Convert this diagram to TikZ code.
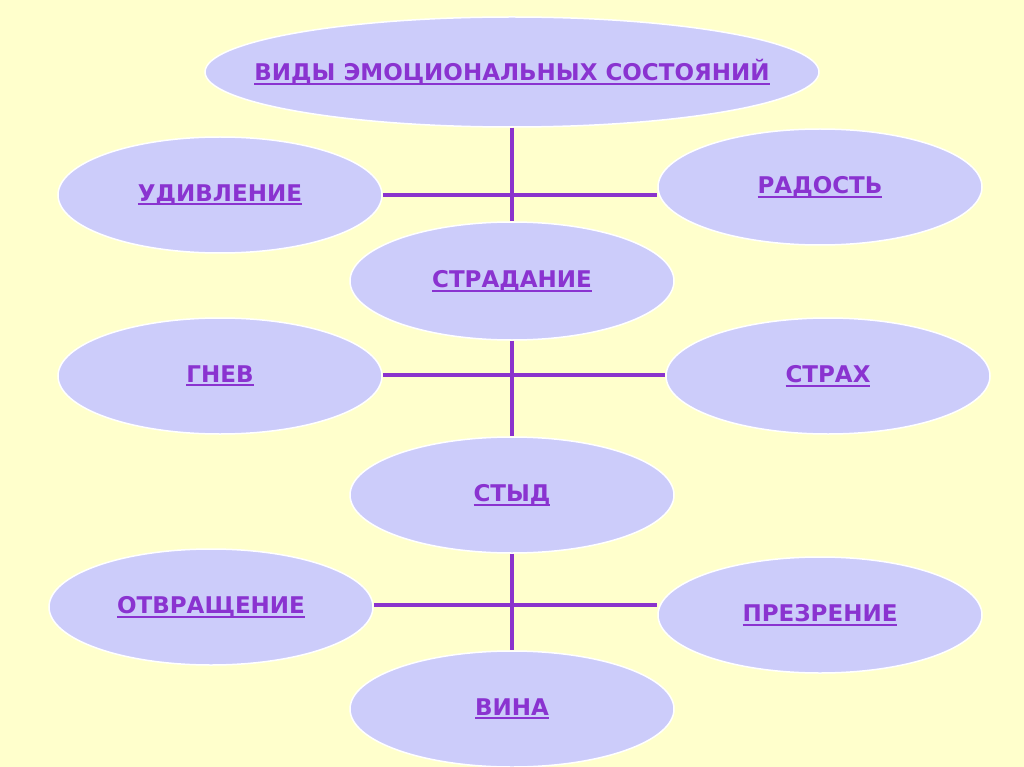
\documentclass[tikz,border=0pt]{standalone}
\usepackage{fontspec}
\usetikzlibrary{shapes.geometric}
\setmainfont{DejaVu Sans}
\newcommand\ulbox[1]{\setbox0\hbox{#1}\raisebox{-3pt}{\makebox[0pt]{\rlap{\rule[-4pt]{\wd0}{2pt}}\box0}}}
\begin{document}
\begin{tikzpicture}[x=1pt,y=-1pt,
  emo/.style={ellipse, draw=white, line width=1.5pt, fill=ellfill, minimum width=324pt, minimum height=116pt, inner sep=0pt,
    font=\fontsize{23}{27}\selectfont\bfseries, text=txtpurple},
  conn/.style={draw=linepurple, line width=4pt}]
\definecolor{bg}{HTML}{FFFFCC}
\definecolor{ellfill}{HTML}{CCCCFA}
\definecolor{txtpurple}{HTML}{8A33D0}
\definecolor{linepurple}{HTML}{8A33CC}
\useasboundingbox (0,0) rectangle (1024,767);
\fill[bg] (0,0) rectangle (1024,767);
\begin{scope}
\clip (0,0) rectangle (1024,767);
\node[emo, minimum width=614pt, minimum height=110pt] (top) at (512,72) {\ulbox{ВИДЫ ЭМОЦИОНАЛЬНЫХ СОСТОЯНИЙ}};
\node[emo] (udiv) at (220,195) {\ulbox{УДИВЛЕНИЕ}};
\node[emo] (rad) at (820,187) {\ulbox{РАДОСТЬ}};
\node[emo, minimum height=118pt] (strad) at (512,281) {\ulbox{СТРАДАНИЕ}};
\node[emo] (gnev) at (220,376) {\ulbox{ГНЕВ}};
\node[emo] (strah) at (828,376) {\ulbox{СТРАХ}};
\node[emo] (styd) at (512,495) {\ulbox{СТЫД}};
\node[emo] (otvr) at (211,607) {\ulbox{ОТВРАЩЕНИЕ}};
\node[emo] (prez) at (820,615) {\ulbox{ПРЕЗРЕНИЕ}};
\node[emo] (vina) at (512,709) {\ulbox{ВИНА}};
\coordinate (j1) at (512,195);
\coordinate (j2) at (512,375);
\coordinate (j3) at (512,605);
\draw[conn] (top.south) -- (strad.north);
\draw[conn] (udiv.east |- j1) -- (rad.west |- j1);
\draw[conn] (strad.south) -- (styd.north);
\draw[conn] (gnev.east |- j2) -- (strah.west |- j2);
\draw[conn] (styd.south) -- (vina.north);
\draw[conn] (otvr.east |- j3) -- (prez.west |- j3);
\end{scope}
\end{tikzpicture}
\end{document}
